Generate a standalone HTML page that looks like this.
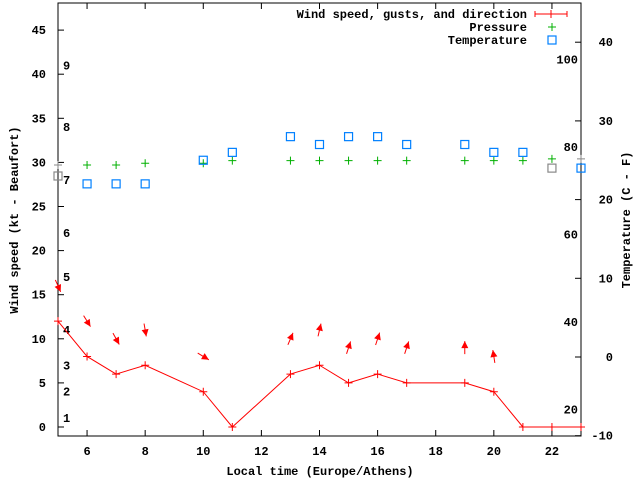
<!DOCTYPE html>
<html><head><meta charset="utf-8"><style>
body{margin:0;background:#fff;}
svg{display:block;font-family:"Liberation Mono",monospace;font-size:12px;font-weight:bold;}
</style></head><body>
<svg id="chart" width="640" height="480" viewBox="0 0 640 480" xmlns="http://www.w3.org/2000/svg"></svg>
<script>
const hours = [5,6,7,8,10,11,13,14,15,16,17,19,20,21,22,23];
const windSpeed = [12,8,6,7,4,0,6,7,5,6,5,5,4,0,0,0];
const pressure = [29.7,29.7,29.7,29.9,29.9,30.2,30.2,30.2,30.2,30.2,30.2,30.2,30.2,30.2,30.4,30.4];
const temperature = [23,22,22,22,25,26,28,27,28,28,27,27,26,26,24,24];
const arrowHours = [5,6,7,8,10,13,14,15,16,17,19,20];
const gusts = [16,12,10,11,8,10,11,9,10,9,9,8];
const windDir = [336,328,331,350,301,203,193,198,198,198,180,171];
const xTicks = [6,8,10,12,14,16,18,20,22];
const yTicks = [0,5,10,15,20,25,30,35,40,45];
const cTicks = [-10,0,10,20,30,40];
const fLabels = [20,40,60,80,100];
const beaufortKt = [1,4,7,11,17,22,28,34,41];

const L=58,R=581,T=3,B=436;
const X = h => L + (h-5)*(R-L)/18;
const Y = v => 427 - v*8.82;
const YC = c => 357 - c*7.87;
const svg=document.getElementById('chart');
const NS='http://www.w3.org/2000/svg';
function mk(tag,attrs,parent){const e=document.createElementNS(NS,tag);for(const k in attrs)e.setAttribute(k,attrs[k]);(parent||svg).appendChild(e);return e;}

const frame=mk('rect',{x:L,y:T,width:R-L,height:B-T,fill:'none',stroke:'#000','stroke-width':1});



xTicks.forEach(h=>{
  const t=mk('path',{d:`M${X(h)},${B}v-6M${X(h)},${T}v6`,stroke:'#000'});
  
  
  const l=mk('text',{x:X(h),y:B+19,'text-anchor':'middle'});l.textContent=h;
  
  
});
yTicks.forEach(v=>{
  const t=mk('path',{d:`M${L},${Y(v)}h6`,stroke:'#000'});
  
  
  const l=mk('text',{x:L-12,y:Y(v)+4,'text-anchor':'end'});l.textContent=v;
  
  
});
cTicks.forEach(c=>{
  const t=mk('path',{d:`M${R},${YC(c)}h-6`,stroke:'#000'});
  
  
  const l=mk('text',{x:R+32,y:YC(c)+4,'text-anchor':'end'});l.textContent=c;
  
  
});
fLabels.forEach(f=>{
  const l=mk('text',{x:R-3,y:YC((f-32)*5/9)+4,'text-anchor':'end'});l.textContent=f;
  
  
});
beaufortKt.forEach((k,i)=>{
  const l=mk('text',{x:63,y:Y(k)+4});l.textContent=i+1;
  
  
});

let a=mk('text',{x:320,y:475,'text-anchor':'middle'});a.textContent='Local time (Europe/Athens)';


a=mk('text',{x:0,y:0,'text-anchor':'middle',transform:'translate(18,220) rotate(-90)'});a.textContent='Wind speed (kt - Beaufort)';


a=mk('text',{x:0,y:0,'text-anchor':'middle',transform:'translate(630,220) rotate(-90)'});a.textContent='Temperature (C - F)';



const pts=hours.map((h,i)=>X(h)+','+Y(windSpeed[i])).join(' ');
const wl=mk('polyline',{points:pts,fill:'none',stroke:'#f00','stroke-width':1});


hours.forEach((h,i)=>{
  const p=mk('path',{d:`M${X(h)-4},${Y(windSpeed[i])}h8M${X(h)},${Y(windSpeed[i])-4}v8`,stroke:'#f00'});
  
  
});
arrowHours.forEach((h,i)=>{
  const head=(windDir[i]+180)*Math.PI/180;
  const dx=Math.sin(head), dy=-Math.cos(head);
  const cx=X(h), cy=Y(gusts[i]), len=13;
  const x1=cx-dx*len/2,y1=cy-dy*len/2,x2=cx+dx*len/2,y2=cy+dy*len/2;
  const px=-dy,py=dx;
  const g=mk('g',{});
  
  
  mk('line',{x1,y1,x2,y2,stroke:'#f00','stroke-width':1},g);
  mk('polygon',{points:`${x2},${y2} ${x2-dx*7+px*3.5},${y2-dy*7+py*3.5} ${x2-dx*7-px*3.5},${y2-dy*7-py*3.5}`,fill:'#f00'},g);
});
hours.forEach((h,i)=>{
  const p=mk('path',{d:`M${X(h)-4},${Y(pressure[i])}h8M${X(h)},${Y(pressure[i])-4}v8`,stroke:(i==0||i==15)?'#888':'#00b000'});
  
  
});
hours.forEach((h,i)=>{
  const s=mk('rect',{x:X(h)-4,y:YC(temperature[i])-4,width:8,height:8,fill:'none',stroke:(i==0||i==14)?'#888':'#0080ff','stroke-width':1.2});
  
  
});

const leg=mk('g',{});


[['Wind speed, gusts, and direction',18],['Pressure',31],['Temperature',44]].forEach(([t,y])=>{
  const e=mk('text',{x:527,y:y,'text-anchor':'end'},leg);e.textContent=t;
  
  
});
mk('path',{d:'M535,14h32M535,11v6M567,11v6M551,10v8',stroke:'#f00'},leg);
mk('path',{d:'M548,27h8M552,23v8',stroke:'#00b000'},leg);
mk('rect',{x:548,y:36,width:8,height:8,fill:'none',stroke:'#0080ff','stroke-width':1.2},leg);
</script>
</body></html>
